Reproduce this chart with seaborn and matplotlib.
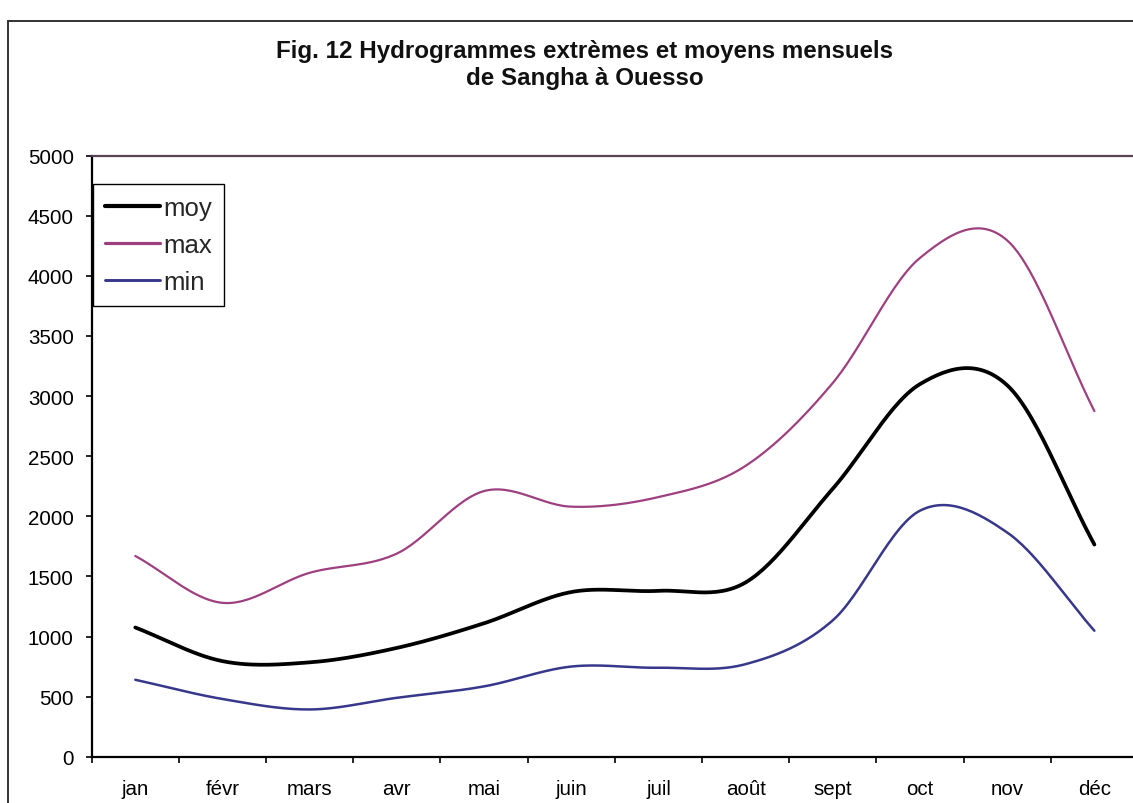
import numpy as np
import pandas as pd
import matplotlib
matplotlib.use("Agg")
import matplotlib.pyplot as plt
import seaborn as sns
from matplotlib.patches import Rectangle
from matplotlib.lines import Line2D

# ---- data -------------------------------------------------------------
months = ["jan", "févr", "mars", "avr", "mai", "juin", "juil", "août",
          "sept", "oct", "nov", "déc"]
moy = [1075, 795, 785, 905, 1110, 1370, 1380, 1450, 2230, 3100, 3090, 1765]
vmax = [1670, 1280, 1530, 1690, 2210, 2080, 2160, 2420, 3110, 4150, 4295, 2875]
vmin = [640, 480, 393, 490, 585, 750, 740, 770, 1135, 2047, 1865, 1048]
series_names = ["moy", "max", "min"]
y_ticks = [0, 500, 1000, 1500, 2000, 2500, 3000, 3500, 4000, 4500, 5000]
title = "Fig. 12 Hydrogrammes extrèmes et moyens mensuels\nde Sangha à Ouesso"

colors = {"moy": "#000000", "max": "#9e4080", "min": "#37378c"}
widths = {"moy": 2.7, "max": 1.6, "min": 1.8}


def smooth(vals, n=30):
    """Excel-like smoothed line (Catmull-Rom / cubic Hermite)."""
    y = np.asarray(vals, float)
    k = len(y)
    m = np.empty(k)
    m[1:-1] = (y[2:] - y[:-2]) / 2.0
    m[0] = (y[1] - y[0])
    m[-1] = (y[-1] - y[-2])
    xs, ys = [], []
    for i in range(k - 1):
        t = np.linspace(0, 1, n, endpoint=(i == k - 2))
        h00 = 2 * t**3 - 3 * t**2 + 1
        h10 = t**3 - 2 * t**2 + t
        h01 = -2 * t**3 + 3 * t**2
        h11 = t**3 - t**2
        xs.append(i + t)
        ys.append(h00 * y[i] + h10 * m[i] + h01 * y[i + 1] + h11 * m[i + 1])
    return np.concatenate(xs), np.concatenate(ys)


frames = []
for name, vals in zip(series_names, [moy, vmax, vmin]):
    xs, ys = smooth(vals)
    frames.append(pd.DataFrame({"x": xs, "value": ys, "series": name}))
df = pd.concat(frames, ignore_index=True)

# ---- figure -----------------------------------------------------------
sns.set_theme(style="white")
plt.rcParams["font.family"] = ["Liberation Sans", "DejaVu Sans"]

W, H = 1133, 804
fig = plt.figure(figsize=(W / 100, H / 100), dpi=100)
fig.patch.set_facecolor("white")

left, right = 91.7, 1138.0
top, bottom = 156.7, 757.7
ax = fig.add_axes([left / W, 1 - bottom / H, (right - left) / W, (bottom - top) / H])
ax.set_facecolor("white")

for name in series_names:
    sub = df[df["series"] == name]
    sns.lineplot(data=sub, x="x", y="value", color=colors[name],
                 linewidth=widths[name], sort=False, estimator=None,
                 ax=ax, legend=False)

ax.set_xlim(-0.5, len(months) - 0.5)
ax.set_ylim(0, 5000)
ax.set_xlabel("")
ax.set_ylabel("")

# top border of plot area (5000 line)
ax.axhline(5000, color="#5a4452", linewidth=1.6, clip_on=False, zorder=5)

for s in ["top", "right"]:
    ax.spines[s].set_visible(False)
for s in ["left", "bottom"]:
    ax.spines[s].set_visible(True)
    ax.spines[s].set_color("black")
    ax.spines[s].set_linewidth(1.6)

ax.set_yticks(y_ticks)
ax.set_yticklabels([str(v) for v in y_ticks])
ax.tick_params(axis="y", which="major", direction="out", length=4.5, width=1.2,
               color="black", pad=8.5, labelsize=14.8, labelcolor="black", left=True)

ax.set_xticks(range(len(months)))
ax.set_xticklabels(months)
ax.set_xticks([i + 0.5 for i in range(len(months) - 1)] + [-0.5], minor=True)
ax.tick_params(axis="x", which="major", length=0, pad=16, labelsize=14.8,
               labelcolor="black")
ax.tick_params(axis="x", which="minor", direction="out", length=4.5, width=1.2,
               color="black", bottom=True)
ax.grid(False)

# legend
handles = [Line2D([0], [0], color=colors["moy"], lw=3.0),
           Line2D([0], [0], color=colors["max"], lw=2.3),
           Line2D([0], [0], color=colors["min"], lw=2.1)]
leg = fig.legend(handles, series_names, loc="upper left",
                 bbox_to_anchor=(93 / W, 1 - 185 / H),
                 bbox_transform=fig.transFigure,
                 fontsize=18.5, frameon=True, fancybox=False, framealpha=1,
                 edgecolor="black", borderpad=0.45, handlelength=2.15,
                 handletextpad=0.15, labelspacing=0.52, borderaxespad=0)
leg.get_frame().set_linewidth(1.0)

# title
fig.text(585 / W, 1 - 65 / H, title, ha="center", va="center",
         fontsize=17.4, fontweight="bold", linespacing=1.25, color="#111111")

# chart-area frame (cut by the image edge on the right and bottom)
fig.patches.append(Rectangle((8 / W, -0.1), 1.5, (1 - 22 / H) + 0.1,
                             transform=fig.transFigure, fill=False,
                             edgecolor="#222222", linewidth=1.3, zorder=0))

fig.savefig("out.png", dpi=100, facecolor="white")
